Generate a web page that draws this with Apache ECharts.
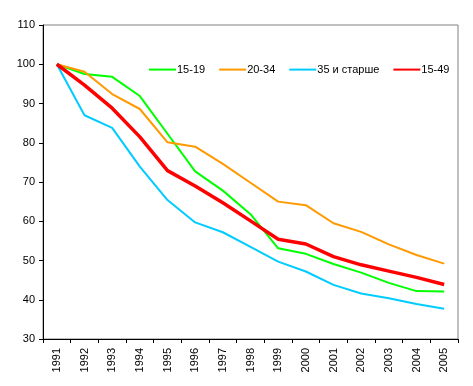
<!DOCTYPE html>
<html><head><meta charset="utf-8">
<script src="https://cdn.jsdelivr.net/npm/echarts@6/dist/echarts.min.js"></script>
<style>html,body{margin:0;padding:0;background:#fff}#c{width:473px;height:386px}</style>
</head><body><div id="c"></div>
<script>
const years = ['1991','1992','1993','1994','1995','1996','1997','1998','1999','2000','2001','2002','2003','2004','2005'];
const s1519 = [100, 97.5, 96.8, 91.9, 82.3, 72.7, 67.8, 61.8, 53.1, 51.7, 49.1, 46.9, 44.3, 42.2, 42.1];
const s2034 = [100, 98.1, 92.4, 88.6, 80.1, 79.0, 74.6, 69.8, 65.0, 64.1, 59.5, 57.3, 54.1, 51.4, 49.2];
const s35 = [100, 87.0, 83.8, 73.9, 65.4, 59.7, 57.2, 53.5, 49.7, 47.2, 43.8, 41.6, 40.4, 38.9, 37.7];
const s1549 = [100, 94.7, 88.8, 81.5, 72.9, 69.0, 64.7, 60.1, 55.4, 54.2, 51.0, 48.9, 47.3, 45.7, 43.9];
const names = ['15-19','20-34','35 и старше','15-49'];
const yTicks = {min:30, max:110, interval:10};

const font = 'Liberation Sans, Arial, sans-serif';
const chart = echarts.init(document.getElementById('c'), null, {renderer:'canvas'});
function ser(name, data, color, width){
  return {name, type:'line', data, symbol:'none', showSymbol:false, smooth:false,
    lineStyle:{color, width}, itemStyle:{color}, animation:false, z: width>2?5:3};
}
chart.setOption({
  animation:false,
  backgroundColor:'#fff',
  grid:{left:43, right:15, top:25, bottom:47, show:true, borderColor:'#808080', borderWidth:1, backgroundColor:'transparent'},
  legend:{
    left:148, top:64, itemWidth:27, itemHeight:14, itemGap:13, padding:0,
    itemStyle:{opacity:0},
    data: names.map(n=>({name:n})),
    textStyle:{fontFamily:font, fontSize:11, color:'#000', padding:[0,0,0,-4]},
    selectedMode:false
  },
  xAxis:{type:'category', data:years, boundaryGap:true,
    axisLine:{lineStyle:{color:'#000', width:1}},
    axisTick:{show:true, length:4, interval:0, lineStyle:{color:'#000'}},
    axisLabel:{rotate:90, interval:0, margin:9, fontFamily:font, fontSize:11, color:'#000'},
    splitLine:{show:false}},
  yAxis:{type:'value', min:yTicks.min, max:yTicks.max, interval:yTicks.interval,
    axisLine:{show:true, lineStyle:{color:'#000', width:1}},
    axisTick:{show:true, length:4, lineStyle:{color:'#000'}},
    axisLabel:{margin:8, fontFamily:font, fontSize:11, color:'#000'},
    splitLine:{show:false}},
  series:[
    ser(names[0], s1519, '#00ff00', 2),
    ser(names[1], s2034, '#ff9900', 2),
    ser(names[2], s35, '#00ccff', 2),
    ser(names[3], s1549, '#ff0000', 3.5)
  ]
});
</script></body></html>
